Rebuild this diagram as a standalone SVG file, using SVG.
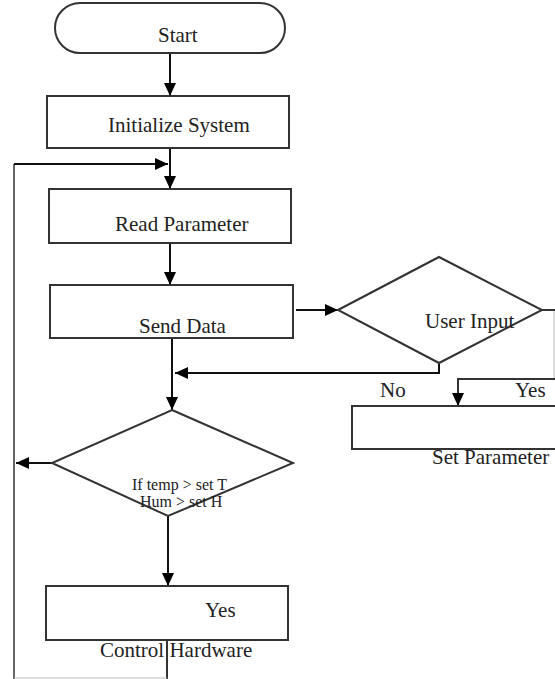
<svg xmlns="http://www.w3.org/2000/svg" width="555" height="679" viewBox="0 0 555 679">
<style>
.box{fill:none;stroke:#333;stroke-width:2}
.ln{fill:none;stroke:#111;stroke-width:2}
.side{fill:none;stroke:#666;stroke-width:2}
.faint{fill:none;stroke:#bbb;stroke-width:1}
text{font-family:"Liberation Serif","Times New Roman",serif;font-size:21px;fill:#222}
.sm{font-size:16px}
</style>
<defs>
<marker id="ah" markerUnits="userSpaceOnUse" markerWidth="13" markerHeight="12" refX="13" refY="6" orient="auto">
<path d="M0,0 L13,6 L0,12 z" fill="#000"/>
</marker>
</defs>
<rect width="555" height="679" fill="#fff"/>
<g id="connectors">
<line class="ln" x1="170" y1="53" x2="170" y2="96" marker-end="url(#ah)"/>
<line class="ln" x1="170" y1="148" x2="170" y2="189" marker-end="url(#ah)"/>
<path class="side" d="M14,679 L14,164"/>
<path class="ln" d="M14,164 L168,164" marker-end="url(#ah)"/>
<line class="ln" x1="170" y1="243" x2="170" y2="285" marker-end="url(#ah)"/>
<line class="ln" x1="296" y1="310" x2="338" y2="310" marker-end="url(#ah)"/>
<line class="ln" x1="172" y1="338" x2="172" y2="410" marker-end="url(#ah)"/>
<path class="ln" d="M439,363 L439,373 L175,373" marker-end="url(#ah)"/>
<path class="box" d="M542,310 L555,310"/>
<path class="faint" d="M554,311 L554,379"/>
<path class="box" d="M555,379 L458,379 L458,406" marker-end="url(#ah)"/>
<line class="ln" x1="52" y1="463" x2="16" y2="463" marker-end="url(#ah)"/>
<line class="ln" x1="168" y1="516" x2="168" y2="586" marker-end="url(#ah)"/>
<line class="box" x1="167" y1="640" x2="167" y2="679"/>
<line class="faint" x1="14" y1="678" x2="167" y2="678"/>
</g>
<g id="start">
<rect class="box" x="55" y="3" width="230" height="50" rx="25" ry="25"/>
<text x="158" y="42">Start</text>
</g>
<g id="init">
<rect class="box" x="47" y="96" width="242" height="52"/>
<text x="108" y="132">Initialize System</text>
</g>
<g id="read">
<rect class="box" x="49" y="189" width="242" height="54"/>
<text x="115" y="231">Read Parameter</text>
</g>
<g id="send">
<rect class="box" x="50" y="285" width="243" height="53"/>
<text x="139" y="333">Send Data</text>
</g>
<g id="userinput">
<polygon class="box" points="338,310 439,257 542,310 439,363"/>
<text x="425" y="328">User Input</text>
</g>
<g id="labels">
<text x="380" y="397">No</text>
<text x="515" y="397">Yes</text>
</g>
<g id="setparam">
<path class="box" d="M555,406 L352,406 L352,449 L555,449"/>
<text x="432" y="464">Set Parameter</text>
</g>
<g id="check">
<polygon class="box" points="172,410 293,463 168,516 52,463"/>
<text class="sm" x="132" y="490">If temp &gt; set T</text>
<text class="sm" x="140" y="507">Hum &gt; set H</text>
</g>
<g id="control">
<rect class="box" x="46" y="586" width="242" height="54"/>
<text x="205" y="617">Yes</text>
<text x="100" y="657">Control Hardware</text>
</g>
</svg>
